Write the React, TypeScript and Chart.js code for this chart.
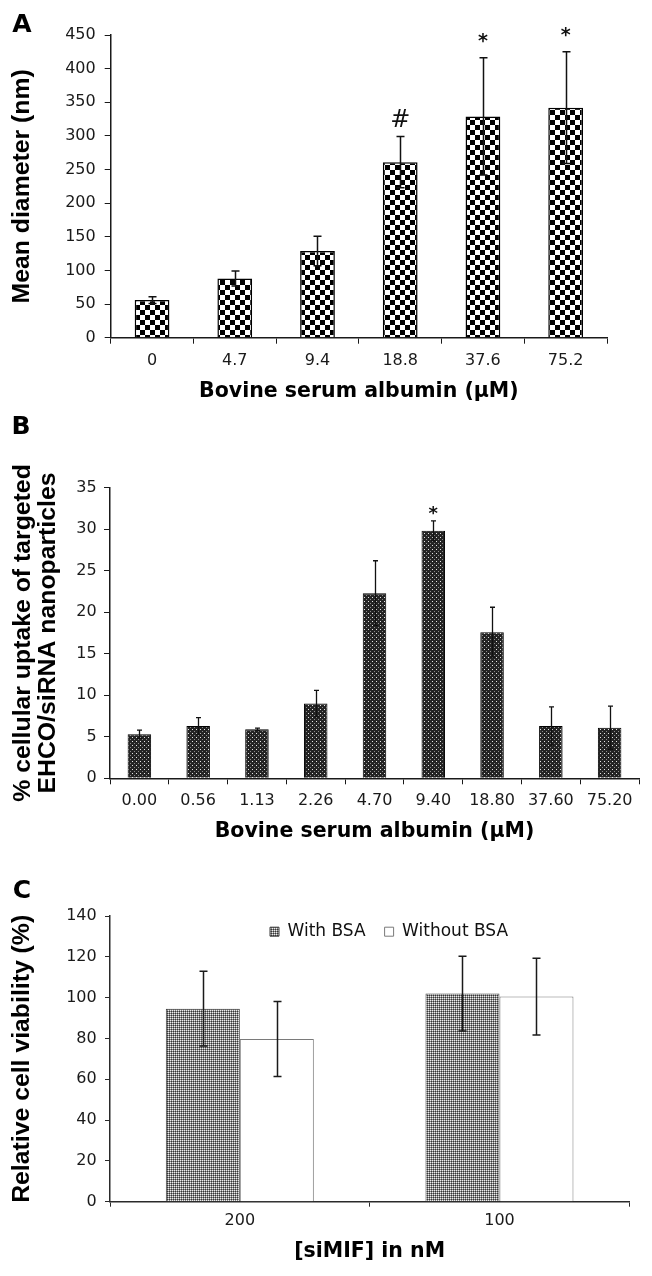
import React, { useEffect, useRef } from 'react';
import { Chart, registerables } from 'chart.js';

Chart.register(...registerables);

// ---------- Panel A data ----------
const bsaLabelsA = ['0', '4.7', '9.4', '18.8', '37.6', '75.2'];
const diameterMean = [56, 88, 129, 261, 329, 342];
const diameterErr = [5, 11, 22, 38, 87, 83];
const diameterMarks = ['', '', '', '#', '*', '*'];
const yTicksA = [0, 50, 100, 150, 200, 250, 300, 350, 400, 450];

// ---------- Panel B data ----------
const bsaLabelsB = ['0.00', '0.56', '1.13', '2.26', '4.70', '9.40', '18.80', '37.60', '75.20'];
const uptakeMean = [5.3, 6.3, 5.9, 9.0, 22.3, 29.8, 17.6, 6.3, 6.1];
const uptakeErr = [0.5, 1.0, 0.15, 1.6, 3.9, 1.2, 3.0, 2.3, 2.6];
const uptakeMarks = ['', '', '', '', '', '*', '', '', ''];
const yTicksB = [0, 5, 10, 15, 20, 25, 30, 35];

// ---------- Panel C data ----------
const simifLabels = ['200', '100'];
const withBsaMean = [94.6, 102];
const withBsaErr = [18.3, 18.3];
const withoutBsaMean = [79.7, 100.5];
const withoutBsaErr = [18.4, 18.8];
const yTicksC = [0, 20, 40, 60, 80, 100, 120, 140];

const W = 652;
const TICK_FONT = { family: "'DejaVu Sans', sans-serif", size: 16 };
const XTITLE_FONT = { family: "'DejaVu Sans', sans-serif", size: 20.5, weight: 'bold' as const, lineHeight: 1.2 };
const YTITLE_FONT = { family: "'Liberation Sans', Arial, sans-serif", size: 24.8, weight: 'bold' as const, lineHeight: 1.2 };

function tile(ctx: CanvasRenderingContext2D, size: number, draw: (g: CanvasRenderingContext2D) => void) {
  const c = document.createElement('canvas');
  c.width = size;
  c.height = size;
  const g = c.getContext('2d')!;
  draw(g);
  return ctx.createPattern(c, 'repeat')!;
}

function checker(ctx: CanvasRenderingContext2D) {
  return tile(ctx, 10, (g) => {
    g.fillStyle = '#ffffff';
    g.fillRect(0, 0, 10, 10);
    g.fillStyle = '#000000';
    g.fillRect(0, 0, 5, 5);
    g.fillRect(5, 5, 5, 5);
  });
}

function darkDots(ctx: CanvasRenderingContext2D) {
  return tile(ctx, 4, (g) => {
    g.fillStyle = '#242424';
    g.fillRect(0, 0, 4, 4);
    g.fillStyle = '#e6e6e6';
    g.fillRect(0, 0, 1, 1);
    g.fillStyle = '#8a8a8a';
    g.fillRect(2, 2, 1, 1);
  });
}

function grayLattice(ctx: CanvasRenderingContext2D) {
  return tile(ctx, 4, (g) => {
    const L = '#eeeeee', G = '#8a8a8a', D = '#363636';
    const rows = [
      [L, G, L, G],
      [G, D, G, D],
      [L, G, L, G],
      [G, D, G, D],
    ];
    rows.forEach((r, y) => r.forEach((c, x) => { g.fillStyle = c; g.fillRect(x, y, 1, 1); }));
  });
}

function errorBars(errs: number[][], color: string, capHalf: number, lw: number) {
  return {
    id: 'errbars',
    afterDatasetsDraw(chart: any) {
      const ctx = chart.ctx as CanvasRenderingContext2D;
      const ys = chart.scales.y;
      ctx.save();
      ctx.strokeStyle = color;
      ctx.lineWidth = lw;
      chart.data.datasets.forEach((ds: any, d: number) => {
        const meta = chart.getDatasetMeta(d);
        meta.data.forEach((bar: any, i: number) => {
          const v = ds.data[i] as number;
          const e = errs[d][i];
          const x = Math.round(bar.x) + 0.5;
          const yt = ys.getPixelForValue(v + e);
          const yb = ys.getPixelForValue(v - e);
          ctx.beginPath();
          ctx.moveTo(x, yt);
          ctx.lineTo(x, yb);
          ctx.moveTo(x - capHalf, yt);
          ctx.lineTo(x + capHalf, yt);
          ctx.moveTo(x - capHalf, yb);
          ctx.lineTo(x + capHalf, yb);
          ctx.stroke();
        });
      });
      ctx.restore();
    },
  };
}

function centeredText(ctx: CanvasRenderingContext2D, text: string, cx: number, cy: number, font: string) {
  ctx.font = font;
  ctx.textAlign = 'center';
  ctx.textBaseline = 'alphabetic';
  const m = ctx.measureText(text);
  const asc = m.actualBoundingBoxAscent;
  const desc = m.actualBoundingBoxDescent;
  ctx.fillText(text, cx, cy + (asc - desc) / 2);
}

function marksPlugin(marks: string[], errs: number[], specs: Record<string, { font: string; gap: number }>) {
  return {
    id: 'marks',
    afterDatasetsDraw(chart: any) {
      const ctx = chart.ctx as CanvasRenderingContext2D;
      const ys = chart.scales.y;
      const ds = chart.data.datasets[0];
      const meta = chart.getDatasetMeta(0);
      ctx.save();
      ctx.fillStyle = '#111';
      marks.forEach((mk, i) => {
        if (!mk) return;
        const spec = specs[mk];
        const top = ys.getPixelForValue((ds.data[i] as number) + errs[i]);
        centeredText(ctx, mk, meta.data[i].x, top - spec.gap, spec.font);
      });
      ctx.restore();
    },
  };
}

function letterPlugin(letter: string, cx: number, cy: number) {
  return {
    id: 'letter',
    afterDraw(chart: any) {
      const ctx = chart.ctx as CanvasRenderingContext2D;
      ctx.save();
      ctx.fillStyle = '#000';
      centeredText(ctx, letter, cx, cy, "bold 25px 'DejaVu Sans', sans-serif");
      ctx.restore();
    },
  };
}

function axes(opts: {
  yTicks: number[];
  yWidth: number;
  xHeight: number;
  yTitle: string | string[];
  yTitleLineHeight?: number;
  yTitlePad: number;
  xTitle: string;
  xTitlePad: number;
  xTickLen: number;
  xTickPad: number;
  yTickLen: number;
  yTickPad: number;
  axisColor: string;
  axisWidth: number;
}) {
  const yt = opts.yTicks;
  return {
    x: {
      offset: true,
      grid: { display: true, drawOnChartArea: false, drawTicks: true, tickLength: opts.xTickLen, color: opts.axisColor, lineWidth: 1, offset: true },
      border: { display: true, color: opts.axisColor, width: opts.axisWidth },
      ticks: { font: TICK_FONT, color: '#1a1a1a', padding: opts.xTickPad, maxRotation: 0, autoSkip: false },
      title: { display: true, text: opts.xTitle, font: XTITLE_FONT, color: '#000', padding: { top: 0, bottom: opts.xTitlePad } },
      afterFit: (s: any) => { s.height = opts.xHeight; },
    },
    y: {
      min: yt[0],
      max: yt[yt.length - 1],
      grid: { display: true, drawOnChartArea: false, drawTicks: true, tickLength: opts.yTickLen, color: opts.axisColor, lineWidth: 1 },
      border: { display: true, color: opts.axisColor, width: opts.axisWidth },
      ticks: { stepSize: yt[1] - yt[0], font: TICK_FONT, color: '#1a1a1a', padding: opts.yTickPad },
      title: {
        display: true,
        text: opts.yTitle,
        font: { ...YTITLE_FONT, lineHeight: opts.yTitleLineHeight ?? 1.2 },
        color: '#000',
        padding: { top: opts.yTitlePad, bottom: 0 },
      },
      afterFit: (s: any) => { s.width = opts.yWidth; },
    },
  };
}

function makeA(canvas: HTMLCanvasElement) {
  const ctx = canvas.getContext('2d')!;
  return new Chart(canvas, {
    type: 'bar',
    data: {
      labels: bsaLabelsA,
      datasets: [{
        label: 'Mean diameter',
        data: diameterMean,
        backgroundColor: checker(ctx),
        borderColor: '#000',
        borderWidth: 1.5,
        barPercentage: 1,
        categoryPercentage: 0.42,
      }],
    },
    options: {
      responsive: false,
      animation: false,
      devicePixelRatio: 1,
      layout: { padding: { left: 0, right: 45, top: 35, bottom: 0 } },
      plugins: { legend: { display: false }, tooltip: { enabled: false } },
      scales: axes({
        yTicks: yTicksA, yWidth: 110.7, xHeight: 67.3,
        yTitle: 'Mean diameter (nm)', yTitlePad: 7.7,
        xTitle: 'Bovine serum albumin (\u00b5M)', xTitlePad: 1.5,
        xTickLen: 6, xTickPad: 7.5, yTickLen: 6, yTickPad: 9,
        axisColor: '#1a1a1a', axisWidth: 1.5,
      }) as any,
    },
    plugins: [
      errorBars([diameterErr], '#111', 4, 1.5),
      marksPlugin(diameterMarks, diameterErr, {
        '#': { font: "24px 'DejaVu Sans', sans-serif", gap: 19 },
        '*': { font: "bold 19px 'DejaVu Sans', sans-serif", gap: 20 },
      }),
      letterPlugin('A', 22, 23),
    ],
  });
}

function makeB(canvas: HTMLCanvasElement) {
  const ctx = canvas.getContext('2d')!;
  return new Chart(canvas, {
    type: 'bar',
    data: {
      labels: bsaLabelsB,
      datasets: [{
        label: 'Cellular uptake',
        data: uptakeMean,
        backgroundColor: darkDots(ctx),
        borderColor: '#000',
        borderWidth: 1,
        barPercentage: 1,
        categoryPercentage: 0.4,
      }],
    },
    options: {
      responsive: false,
      animation: false,
      devicePixelRatio: 1,
      layout: { padding: { left: 0, right: 13, top: 82.7, bottom: 0 } },
      plugins: { legend: { display: false }, tooltip: { enabled: false } },
      scales: axes({
        yTicks: yTicksB, yWidth: 110, xHeight: 71.7,
        yTitle: ['% cellular uptake of targeted', 'EHCO/siRNA nanoparticles'], yTitleLineHeight: 25 / 24.8, yTitlePad: 10.8,
        xTitle: 'Bovine serum albumin (\u00b5M)', xTitlePad: 5.6,
        xTickLen: 6, xTickPad: 6.9, yTickLen: 6, yTickPad: 7.3,
        axisColor: '#1a1a1a', axisWidth: 1.5,
      }) as any,
    },
    plugins: [
      errorBars([uptakeErr], '#111', 2.5, 1.3),
      marksPlugin(uptakeMarks, uptakeErr, {
        '*': { font: "bold 18px 'DejaVu Sans', sans-serif", gap: 10.5 },
      }),
      letterPlugin('B', 21, 20),
    ],
  });
}

function makeC(canvas: HTMLCanvasElement) {
  const ctx = canvas.getContext('2d')!;
  const legendItemsTop = 54.2;
  const legendLeft = 251;
  return new Chart(canvas, {
    type: 'bar',
    data: {
      labels: simifLabels,
      datasets: [
        {
          label: 'With BSA',
          data: withBsaMean,
          backgroundColor: grayLattice(ctx),
          borderColor: '#3a3a3a',
          borderWidth: 1,
          barPercentage: 1,
          categoryPercentage: 0.57,
        },
        {
          label: 'Without BSA',
          data: withoutBsaMean,
          backgroundColor: '#ffffff',
          borderColor: '#7a7a7a',
          borderWidth: 1,
          barPercentage: 1,
          categoryPercentage: 0.57,
        },
      ],
    },
    options: {
      responsive: false,
      animation: false,
      devicePixelRatio: 1,
      layout: { padding: { left: 0, right: 22.7, top: 20, bottom: 0 } },
      plugins: {
        legend: {
          display: true,
          position: 'top',
          align: 'start',
          labels: {
            boxWidth: 9,
            boxHeight: 9,
            padding: 19,
            color: '#111',
            font: { family: "'DejaVu Sans', sans-serif", size: 17 },
          },
        },
        tooltip: { enabled: false },
      },
      scales: axes({
        yTicks: yTicksC, yWidth: 110, xHeight: 74.3,
        yTitle: 'Relative cell viability (%)', yTitlePad: 7.7,
        xTitle: '[siMIF] in nM', xTitlePad: 12.5,
        xTickLen: 5, xTickPad: 4.5, yTickLen: 5, yTickPad: 8.3,
        axisColor: '#2a2a2a', axisWidth: 1.5,
      }) as any,
    },
    plugins: [
      {
        id: 'moveLegend',
        afterLayout(chart: any) {
          const lg = chart.legend;
          if (!lg) return;
          const h = lg.height;
          lg.top = legendItemsTop;
          lg.bottom = legendItemsTop + h;
          lg.left = legendLeft;
        },
      },
      errorBars([withBsaErr, withoutBsaErr], '#1a1a1a', 4, 1.5),
      letterPlugin('C', 22, 39),
    ],
  });
}

function Panel({ top, height, make }: { top: number; height: number; make: (c: HTMLCanvasElement) => Chart }) {
  const ref = useRef<HTMLCanvasElement | null>(null);
  useEffect(() => {
    if (!ref.current) return;
    const chart = make(ref.current);
    return () => chart.destroy();
  }, [make]);
  return (
    <canvas
      ref={ref}
      width={W}
      height={height}
      style={{ position: 'absolute', left: 0, top, width: W, height, display: 'block' }}
    />
  );
}

export default function App() {
  return (
    <div style={{ position: 'absolute', left: 0, top: 0, width: W, height: 1276, background: '#fff' }}>
      <Panel top={0} height={405} make={makeA} />
      <Panel top={405} height={445} make={makeB} />
      <Panel top={850} height={426} make={makeC} />
    </div>
  );
}
